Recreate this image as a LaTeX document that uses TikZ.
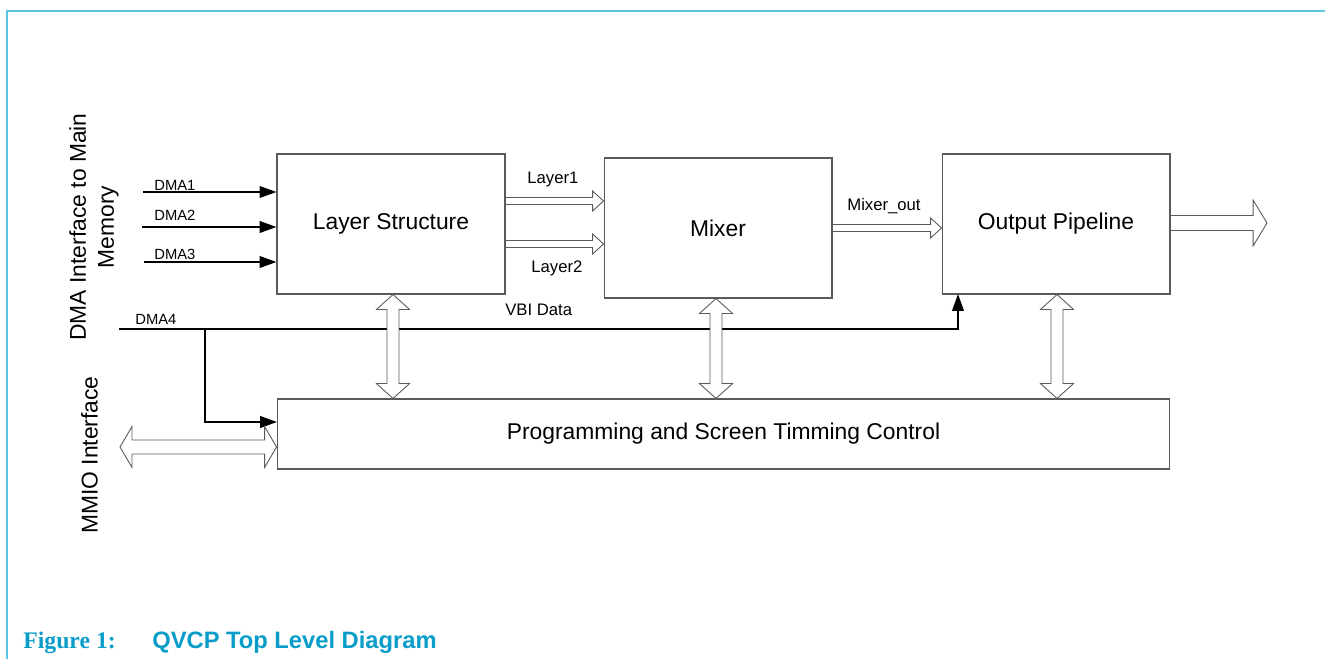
\documentclass[tikz,border=0pt]{standalone}
\usepackage{fontspec}
\setmainfont{Liberation Sans}
\newfontfamily\capserif{Liberation Serif}
\usetikzlibrary{arrows.meta,calc}
\definecolor{framecyan}{RGB}{88,196,230}
\definecolor{captionblue}{RGB}{8,156,200}
\definecolor{boxgray}{RGB}{90,90,90}

\tikzset{
  hollow/.style args={#1/#2/#3}{draw=boxgray,fill=white,line width=0.5pt,
    to path={($(\tikztostart)!#1!90:(\tikztotarget)$)
      -- ($(\tikztotarget)!#3!(\tikztostart)!#1!-90:(\tikztostart)$)
      -- ($(\tikztotarget)!#3!(\tikztostart)!#2!-90:(\tikztostart)$)
      -- (\tikztotarget)
      -- ($(\tikztotarget)!#3!(\tikztostart)!#2!90:(\tikztostart)$)
      -- ($(\tikztotarget)!#3!(\tikztostart)!#1!90:(\tikztostart)$)
      -- ($(\tikztostart)!#1!-90:(\tikztotarget)$) -- cycle}},
  hollowboth/.style args={#1/#2/#3}{draw=boxgray,fill=white,line width=0.5pt,
    to path={(\tikztostart)
      -- ($(\tikztostart)!#3!(\tikztotarget)!#2!90:(\tikztotarget)$)
      -- ($(\tikztostart)!#3!(\tikztotarget)!#1!90:(\tikztotarget)$)
      -- ($(\tikztotarget)!#3!(\tikztostart)!#1!-90:(\tikztostart)$)
      -- ($(\tikztotarget)!#3!(\tikztostart)!#2!-90:(\tikztostart)$)
      -- (\tikztotarget)
      -- ($(\tikztotarget)!#3!(\tikztostart)!#2!90:(\tikztostart)$)
      -- ($(\tikztotarget)!#3!(\tikztostart)!#1!90:(\tikztostart)$)
      -- ($(\tikztostart)!#3!(\tikztotarget)!#1!-90:(\tikztotarget)$)
      -- ($(\tikztostart)!#3!(\tikztotarget)!#2!-90:(\tikztotarget)$)
      -- cycle}}
}

\begin{document}
\begin{tikzpicture}[x=0.02cm,y=-0.02cm,
  blk/.style={draw=boxgray,line width=0.6pt,inner sep=0pt,
    minimum width=4.56cm,minimum height=2.8cm,font=\fontsize{13}{15}\selectfont},
  dma/.style={line width=1.1pt,-{Triangle[length=9.6pt,width=6.6pt]}},
  sig/.style={anchor=base west,inner sep=0pt,font=\fontsize{9.5}{11}\selectfont},
  dmalbl/.style={anchor=base west,inner sep=0pt,font=\fontsize{8.4}{10}\selectfont},
  side/.style={rotate=90,align=center,inner sep=0pt,font=\fontsize{13}{15.9}\selectfont},
  frame/.style={draw=framecyan,line width=1.2pt}
]
  \useasboundingbox (0,0) rectangle (1325,659);
  \draw[frame] (1325,11) -- (7,11) -- (7,659);

  % blocks
  \node[blk] (ls) at (391,224) {Layer Structure};
  \node[blk] (mix) at (718,228) {Mixer};
  \node[blk] (op) at (1056,224) {Output Pipeline};
  \node[blk,minimum width=17.86cm,minimum height=1.4cm] (prog) at (723.5,434)
    {Programming and Screen Timming Control};

  % side interfaces
  \node[side] (dmaif) at (94,227) {DMA Interface to Main\\Memory};
  \node[side] (mmioif) at (89.5,455) {MMIO Interface};

  % dma inputs
  \coordinate (d1) at (143,192);
  \coordinate (d2) at (142,227);
  \coordinate (d3) at (144,262);
  \coordinate (d4) at (119,329);
  \coordinate (br) at (205,329);
  \coordinate (opin) at (958,294);
  \coordinate (progin) at (277,422);
  \draw[dma] (d1) -- (d1 -| ls.west);
  \draw[dma] (d2) -- (d2 -| ls.west);
  \draw[dma] (d3) -- (d3 -| ls.west);
  \draw[dma] (d4) -| (opin);
  \draw[dma] (br) |- (progin);
  \node[dmalbl] at (154,190.5) {DMA1};
  \node[dmalbl] at (154,220.5) {DMA2};
  \node[dmalbl] at (154,259) {DMA3};
  \node[dmalbl] at (135,324) {DMA4};
  \node[sig] at (505,315) {VBI Data};

  % data paths
  \coordinate (l1a) at (ls.east |- 0,201);
  \coordinate (l1b) at (mix.west |- 0,201);
  \coordinate (l2a) at (ls.east |- 0,244);
  \coordinate (l2b) at (mix.west |- 0,244);
  \coordinate (moa) at (mix.east |- 0,228);
  \coordinate (mob) at (op.west |- 0,228);
  \coordinate (outa) at (op.east |- 0,223);
  \coordinate (outb) at (1267,223);
  \draw[hollow=2pt/5.7pt/6.2pt] (l1a) to (l1b);
  \draw[hollow=2pt/5.7pt/6.2pt] (l2a) to (l2b);
  \draw[hollow=2pt/5.7pt/6.2pt] (moa) to (mob);
  \draw[hollow=4.25pt/13pt/7.9pt] (outa) to (outb);
  \node[sig] at (527,183) {Layer1};
  \node[sig] at (531,272) {Layer2};
  \node[sig] at (847,210) {Mixer\_out};

  % control buses
  \draw[hollowboth=3.4pt/9.4pt/8.5pt] (ls.south -| 393,0) to (prog.north -| 393,0);
  \draw[hollowboth=3.4pt/9.4pt/8.5pt] (mix.south -| 716,0) to (prog.north -| 716,0);
  \draw[hollowboth=3.4pt/9.4pt/8.5pt] (op.south -| 1057,0) to (prog.north -| 1057,0);
  \coordinate (mmio) at (120,447);
  \draw[hollowboth=4pt/11.6pt/6.8pt] (mmio) to (prog.west |- mmio);

  % caption
  \node[anchor=base west,inner sep=0pt,text=captionblue,font=\capserif\bfseries\fontsize{13.5}{15}\selectfont]
    (fig) at (23,648) {Figure 1:};
  \node[anchor=base west,inner sep=0pt,text=captionblue,font=\bfseries\fontsize{13.5}{15}\selectfont]
    (title) at (152,648) {QVCP Top Level Diagram};
\end{tikzpicture}
\end{document}
